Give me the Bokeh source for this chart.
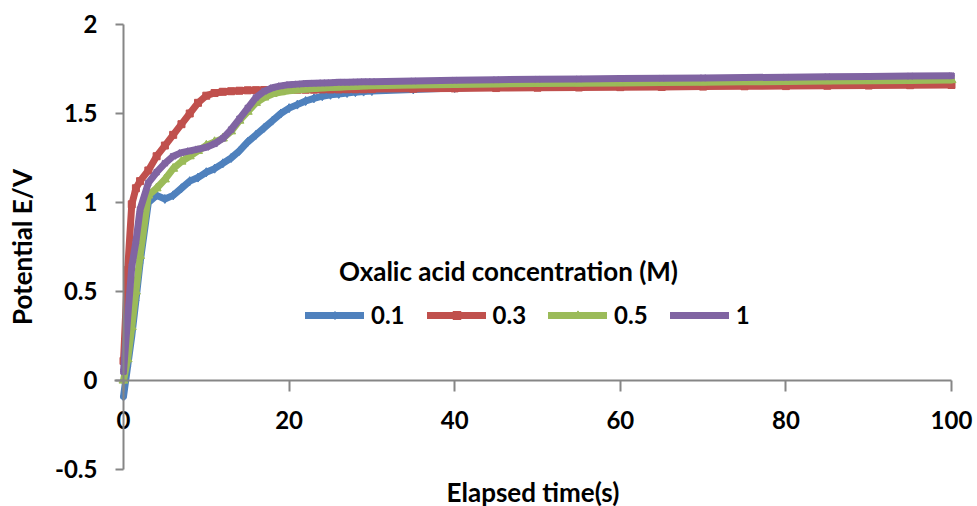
from bokeh.plotting import figure
from bokeh.models import (Range1d, LinearAxis, FixedTicker, NumeralTickFormatter,
                          Legend, LegendItem, Label, ColumnDataSource)
from bokeh.embed import file_html
from bokeh.resources import INLINE

# ---- data ----
time_s = [0, 0.5, 1, 1.5, 2] + list(range(3, 31)) + list(range(35, 101, 5))

e_01 = [-0.09, 0.08, 0.25, 0.45, 0.66,
        1.00, 1.04, 1.02, 1.04, 1.08, 1.12, 1.14, 1.17, 1.19, 1.22, 1.25, 1.29, 1.34, 1.38,
        1.42, 1.46, 1.50, 1.53, 1.55, 1.57, 1.585, 1.597, 1.605, 1.61, 1.615, 1.62, 1.623, 1.626,
        1.635, 1.643, 1.650, 1.655, 1.660, 1.664, 1.667, 1.670, 1.673, 1.676, 1.679, 1.681, 1.683, 1.685]

e_03 = [0.11, 0.62, 0.99, 1.08, 1.12,
        1.18, 1.26, 1.32, 1.38, 1.44, 1.50, 1.56, 1.60, 1.615, 1.622, 1.625, 1.628, 1.630, 1.631,
        1.632, 1.632, 1.633, 1.633, 1.634, 1.634, 1.634, 1.635, 1.635, 1.635, 1.636, 1.636, 1.636, 1.637,
        1.639, 1.641, 1.643, 1.645, 1.646, 1.648, 1.649, 1.651, 1.653, 1.654, 1.656, 1.657, 1.659, 1.660]

e_05 = [0.00, 0.12, 0.30, 0.50, 0.70,
        1.04, 1.08, 1.13, 1.19, 1.23, 1.26, 1.29, 1.32, 1.34, 1.36, 1.40, 1.46, 1.51, 1.56,
        1.59, 1.61, 1.62, 1.628, 1.632, 1.636, 1.640, 1.643, 1.646, 1.648, 1.650, 1.652, 1.654, 1.656,
        1.660, 1.663, 1.666, 1.668, 1.670, 1.672, 1.674, 1.676, 1.678, 1.680, 1.682, 1.684, 1.686, 1.688]

e_1 = [0.05, 0.35, 0.64, 0.78, 0.96,
       1.11, 1.17, 1.22, 1.26, 1.28, 1.29, 1.30, 1.31, 1.33, 1.36, 1.41, 1.47, 1.53, 1.59,
       1.625, 1.645, 1.655, 1.662, 1.665, 1.668, 1.670, 1.672, 1.673, 1.675, 1.676, 1.677, 1.678, 1.679,
       1.683, 1.687, 1.690, 1.692, 1.694, 1.696, 1.698, 1.700, 1.702, 1.704, 1.706, 1.708, 1.710, 1.712]

series_labels = ["0.1", "0.3", "0.5", "1"]
series_colors = ["#4F81BD", "#C0504D", "#9BBB59", "#8064A2"]
series_markers = ["diamond", "square", "triangle", "x"]
series_values = [e_01, e_03, e_05, e_1]

x_ticks = [0, 20, 40, 60, 80, 100]
y_ticks = [-0.5, 0, 0.5, 1, 1.5, 2]

legend_title = "Oxalic acid concentration (M)"
x_title = "Elapsed time(s)"
y_title = "Potential E/V"

FONT = "Lato"
AXIS_GREY = "#868686"

W, H = 977, 506
# frame covers the whole canvas; axes sit at x=0 / y=0 inside it
p = figure(width=W, height=H, output_backend="svg", toolbar_location=None,
           x_range=Range1d(-14.855, 103.14), y_range=Range1d(-0.7079, 2.1348),
           x_axis_location=None, y_axis_location=None,
           min_border_left=0, min_border_right=0, min_border_top=0, min_border_bottom=0)
p.grid.visible = False
p.outline_line_color = None
p.background_fill_color = "white"
p.border_fill_color = "white"

xaxis = LinearAxis(fixed_location=0, bounds=(-1.1, 100), ticker=FixedTicker(ticks=x_ticks),
                   axis_label=x_title)
yaxis = LinearAxis(fixed_location=0, bounds=(-0.5, 2), ticker=FixedTicker(ticks=y_ticks),
                   formatter=NumeralTickFormatter(format="0.[0]"),
                   axis_label=y_title)
for ax in (xaxis, yaxis):
    ax.axis_line_color = AXIS_GREY
    ax.axis_line_width = 2
    ax.major_tick_line_color = AXIS_GREY
    ax.major_tick_line_width = 2
    ax.minor_tick_line_color = None
    ax.major_tick_in = 0
    ax.major_label_text_font = FONT
    ax.major_label_text_font_style = "bold"
    ax.major_label_text_font_size = "24px"
    ax.major_label_text_color = "black"
    ax.axis_label_text_font = FONT
    ax.axis_label_text_font_style = "bold"
    ax.axis_label_text_font_size = "26px"
    ax.axis_label_text_color = "black"
xaxis.major_tick_out = 11
xaxis.major_label_standoff = 20
xaxis.axis_label_standoff = 43
yaxis.major_tick_out = 8
yaxis.major_label_standoff = 18
yaxis.axis_label_standoff = 14
p.add_layout(xaxis, "below")
p.add_layout(yaxis, "left")

items = []
for lab, col, mk, vals in zip(series_labels, series_colors, series_markers, series_values):
    src = ColumnDataSource(dict(t=time_s, e=vals))
    r_line = p.line("t", "e", source=src, line_color=col, line_width=7,
                    line_join="round", line_cap="round")
    if mk == "x":
        r_mk = p.scatter("t", "e", source=src, marker=mk, size=8, line_color=col,
                         line_width=2)
    else:
        r_mk = p.scatter("t", "e", source=src, marker=mk, size=9 if mk != "square" else 7,
                         fill_color=col, line_color=col)
    items.append(LegendItem(label=lab, renderers=[r_line, r_mk]))

legend = Legend(items=items, orientation="horizontal", location=(305, 177),
                border_line_color=None, background_fill_alpha=0,
                padding=0, margin=0, spacing=22, glyph_width=59, glyph_height=20,
                label_standoff=7, label_height=20,
                label_text_font=FONT, label_text_font_style="bold",
                label_text_font_size="24px", label_text_color="black")
p.add_layout(legend, "center")

title_lbl = Label(x=508, y=236, x_units="screen", y_units="screen", text=legend_title,
                  text_align="center", text_baseline="middle", text_font=FONT,
                  text_font_style="bold", text_font_size="26px", text_color="black")
p.add_layout(title_lbl)

open("out.html", "w").write(file_html(p, INLINE))
